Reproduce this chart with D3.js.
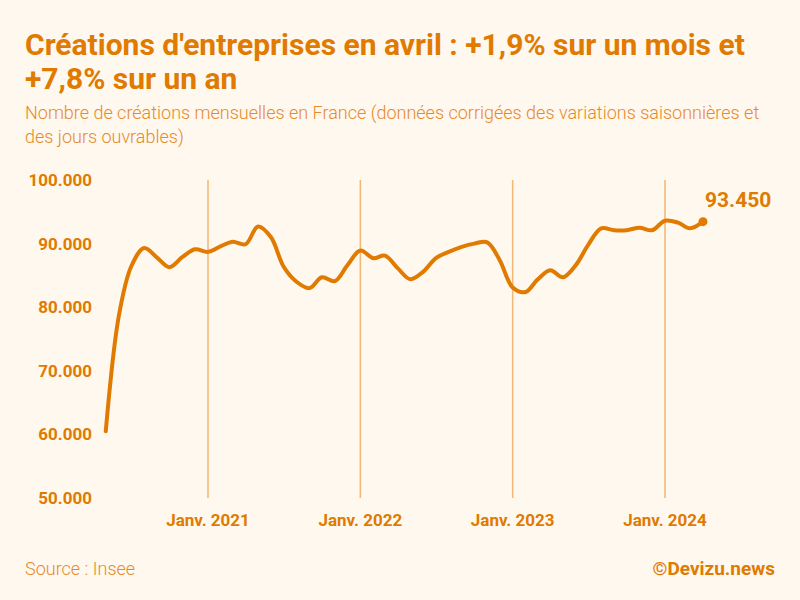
<!DOCTYPE html>
<html>
<head>
<meta charset="utf-8">
<script src="https://cdn.jsdelivr.net/npm/d3@7"></script>
<style>
  html, body { margin: 0; padding: 0; background: #fef8ee; }
  svg { display: block; }
</style>
</head>
<body>
<div id="chart"></div>
<script>
// Créations mensuelles (CVS-CJO), mai 2020 -> avril 2024
const months = [
  "2020-05", "2020-06", "2020-07", "2020-08", "2020-09", "2020-10", "2020-11", "2020-12",
  "2021-01", "2021-02", "2021-03", "2021-04", "2021-05", "2021-06", "2021-07", "2021-08",
  "2021-09", "2021-10", "2021-11", "2021-12", "2022-01", "2022-02", "2022-03", "2022-04",
  "2022-05", "2022-06", "2022-07", "2022-08", "2022-09", "2022-10", "2022-11", "2022-12",
  "2023-01", "2023-02", "2023-03", "2023-04", "2023-05", "2023-06", "2023-07", "2023-08",
  "2023-09", "2023-10", "2023-11", "2023-12", "2024-01", "2024-02", "2024-03", "2024-04"
];
const creations = [
  60500, 78500, 86400, 89300, 87800, 86300, 87900, 89100,
  88700, 89600, 90300, 89900, 92700, 91000, 86400, 84000,
  83000, 84700, 84100, 86600, 88900, 87700, 88100, 86100,
  84400, 85600, 87700, 88700, 89500, 90000, 90200, 87400,
  83100, 82400, 84300, 85800, 84700, 86600, 89800, 92400,
  92100, 92100, 92500, 92100, 93600, 93300, 92400, 93450
];
const yTicks = [50000, 60000, 70000, 80000, 90000, 100000];
const xTicks = ["2021-01", "2022-01", "2023-01", "2024-01"];
const xTickLabels = ["Janv. 2021", "Janv. 2022", "Janv. 2023", "Janv. 2024"];

const W = 800, H = 600;
const orange = "#e07a00";
const light = "#e8892a";
const grid = "#f2b676";
const font = "Roboto, 'Open Sans', sans-serif";

const parse = d3.timeParse("%Y-%m");
const data = months.map((m, i) => ({ date: parse(m), value: creations[i] }));

const svg = d3.select("#chart").append("svg")
  .attr("width", W).attr("height", H);

svg.append("rect").attr("width", W).attr("height", H).attr("fill", "#fef8ee");

// titre
const title = svg.append("text")
  .attr("font-family", font)
  .attr("font-weight", "bold")
  .attr("font-size", 30)
  .attr("fill", orange);
title.append("tspan").attr("x", 25).attr("y", 55).text("Créations d'entreprises en avril : +1,9% sur un mois et");
title.append("tspan").attr("x", 25).attr("y", 89).text("+7,8% sur un an");

const sub = svg.append("text")
  .attr("font-family", font)
  .attr("font-weight", 300)
  .attr("font-size", 18)
  .attr("fill", light);
sub.append("tspan").attr("x", 25).attr("y", 119).text("Nombre de créations mensuelles en France (données corrigées des variations saisonnières et");
sub.append("tspan").attr("x", 25).attr("y", 143).text("des jours ouvrables)");

// échelles
const x = d3.scaleTime()
  .domain([parse("2021-01"), parse("2024-01")])
  .range([208, 665]);
const y = d3.scaleLinear()
  .domain([50000, 100000])
  .range([498, 180]);

// grille verticale
svg.append("g")
  .selectAll("line")
  .data(xTicks)
  .join("line")
  .attr("x1", d => x(parse(d)))
  .attr("x2", d => x(parse(d)))
  .attr("y1", y(100000))
  .attr("y2", y(50000))
  .attr("stroke", grid)
  .attr("stroke-width", 1.5);

// axe y
const fmt = d3.formatLocale({ decimal: ",", thousands: ".", grouping: [3], currency: ["", "€"] }).format(",d");
svg.append("g")
  .selectAll("text")
  .data(yTicks)
  .join("text")
  .attr("x", 92)
  .attr("y", d => y(d))
  .attr("dy", "0.35em")
  .attr("text-anchor", "end")
  .attr("font-family", font)
  .attr("font-weight", "bold")
  .attr("font-size", 17)
  .attr("fill", orange)
  .text(d => fmt(d));

// axe x
svg.append("g")
  .selectAll("text")
  .data(xTicks)
  .join("text")
  .attr("x", d => x(parse(d)))
  .attr("y", 526)
  .attr("text-anchor", "middle")
  .attr("font-family", font)
  .attr("font-weight", "bold")
  .attr("font-size", 17)
  .attr("fill", orange)
  .text((d, i) => xTickLabels[i]);

// courbe
const line = d3.line()
  .x(d => x(d.date))
  .y(d => y(d.value))
  .curve(d3.curveCatmullRom.alpha(0.5));

svg.append("path")
  .datum(data)
  .attr("d", line)
  .attr("fill", "none")
  .attr("stroke", orange)
  .attr("stroke-width", 4)
  .attr("stroke-linejoin", "round")
  .attr("stroke-linecap", "round");

const last = data[data.length - 1];
svg.append("circle")
  .attr("cx", x(last.date))
  .attr("cy", y(last.value))
  .attr("r", 4.5)
  .attr("fill", orange);

svg.append("text")
  .attr("x", x(last.date) + 2)
  .attr("y", y(last.value) - 15)
  .attr("font-family", font)
  .attr("font-weight", "bold")
  .attr("font-size", 21)
  .attr("fill", orange)
  .text(fmt(last.value));

// pied
svg.append("text")
  .attr("x", 25).attr("y", 575)
  .attr("font-family", font)
  .attr("font-weight", 300)
  .attr("font-size", 18)
  .attr("fill", light)
  .text("Source : Insee");

svg.append("text")
  .attr("x", 775).attr("y", 575)
  .attr("text-anchor", "end")
  .attr("font-family", font)
  .attr("font-weight", "bold")
  .attr("font-size", 19)
  .attr("fill", orange)
  .text("©Devizu.news");
</script>
</body>
</html>
